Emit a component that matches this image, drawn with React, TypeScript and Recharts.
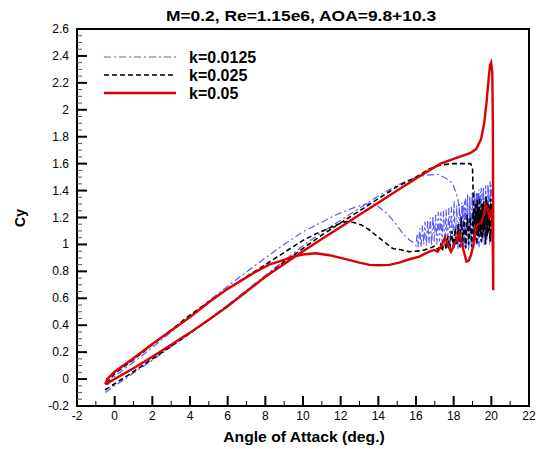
import React from 'react';
import { LineChart, Line, XAxis, YAxis, ReferenceArea, Legend } from 'recharts';

// axis ticks
const X_MAJOR = [-2, 0, 2, 4, 6, 8, 10, 12, 14, 16, 18, 20, 22];
const X_MINOR = [-1, 1, 3, 5, 7, 9, 11, 13, 15, 17, 19, 21];
const Y_MAJOR = [-0.2, 0, 0.2, 0.4, 0.6, 0.8, 1, 1.2, 1.4, 1.6, 1.8, 2, 2.2, 2.4, 2.6];
const Y_MINOR = Y_MAJOR.slice(0, -1).flatMap((v) => [v + 0.05, v + 0.1, v + 0.15]);

// [alpha, Cy] pairs (one pitching cycle each)
const K0125: [number, number][] = [
  [-0.5, -0.1], [0, -0.05], [1, 0.045], [2, 0.14], [3, 0.24], [4, 0.34], [5, 0.445], [6, 0.55],
  [7, 0.66], [8, 0.77], [9, 0.88], [10, 0.99], [11, 1.09], [12, 1.18], [13, 1.27], [14, 1.36],
  [15, 1.44], [16, 1.5], [16.6, 1.515], [17.2, 1.52], [17.6, 1.49], [17.94, 1.454], [18.2, 1.355],
  [18.35, 1.22], [18.45, 1.1],
  [18.5, 1.3], [18.56, 0.98], [18.62, 1.34], [18.68, 1.0], [18.74, 1.37], [18.8, 0.97], [18.86, 1.36],
  [18.92, 1.02], [18.98, 1.38], [19.04, 0.99], [19.1, 1.4], [19.16, 1.03], [19.22, 1.39], [19.28, 1.0],
  [19.34, 1.41], [19.4, 1.05], [19.46, 1.42], [19.52, 1.02], [19.58, 1.43], [19.64, 1.06], [19.7, 1.44],
  [19.76, 1.04], [19.82, 1.45], [19.88, 1.08], [19.94, 1.47], [20.0, 1.1], [20.06, 1.52], [20.1, 1.25],
  [20.05, 1.02], [19.98, 1.44], [19.91, 1.0], [19.84, 1.42], [19.77, 1.03], [19.7, 1.4], [19.63, 0.99],
  [19.56, 1.41], [19.49, 1.01], [19.42, 1.39], [19.35, 0.98], [19.28, 1.38], [19.21, 1.0], [19.14, 1.37],
  [19.07, 0.97], [19.0, 1.36], [18.93, 0.99], [18.86, 1.34], [18.79, 0.96], [18.72, 1.33], [18.65, 0.98],
  [18.58, 1.32], [18.51, 0.95], [18.44, 1.31], [18.37, 0.97], [18.3, 1.3], [18.23, 0.96], [18.16, 1.29],
  [18.09, 0.99], [18.02, 1.32], [17.95, 0.97], [17.88, 1.28], [17.81, 1.0], [17.74, 1.27], [17.67, 0.98],
  [17.6, 1.26], [17.53, 1.0], [17.46, 1.25], [17.39, 1.01], [17.32, 1.24], [17.25, 1.02], [17.18, 1.24],
  [17.11, 1.0], [17.04, 1.22], [16.97, 1.02], [16.9, 1.21], [16.83, 0.99], [16.76, 1.2], [16.69, 1.01],
  [16.62, 1.18], [16.55, 0.99], [16.48, 1.17], [16.41, 1.0], [16.34, 1.14], [16.27, 0.98], [16.2, 1.12],
  [16.13, 0.98], [16.06, 1.08], [16.0, 0.99],
  [15.8, 1.02], [15.65, 1.033], [15.45, 1.06], [15.29, 1.083], [15.0, 1.14], [14.76, 1.18], [14.5, 1.225],
  [14.23, 1.256], [13.95, 1.285], [13.7, 1.305], [13.3, 1.3], [12.64, 1.27], [11.76, 1.22], [11, 1.165],
  [10, 1.095], [9, 1.0], [8, 0.9], [7, 0.795], [6, 0.69], [5, 0.58], [4, 0.465], [3, 0.35], [2, 0.235],
  [1, 0.125], [0, 0.02], [-0.3, -0.03], [-0.5, -0.07],
];

const K025: [number, number][] = [
  [-0.5, -0.08], [0, -0.035], [1, 0.055], [2, 0.15], [3, 0.245], [4, 0.34], [5, 0.44], [6, 0.545],
  [7, 0.65], [8, 0.76], [9, 0.87], [10, 0.97], [11, 1.07], [12, 1.16], [13, 1.25], [14, 1.34],
  [15, 1.43], [16, 1.5], [16.7, 1.56], [17.3, 1.59], [18, 1.6], [18.9, 1.6], [19.0, 1.57],
  [19.03, 1.4], [19.06, 1.25], [19.1, 1.16],
  [19.15, 1.3], [19.2, 1.08], [19.25, 1.33], [19.3, 1.05], [19.36, 1.35], [19.42, 1.1], [19.48, 1.3],
  [19.54, 1.04], [19.6, 1.32], [19.66, 1.12], [19.72, 1.36], [19.78, 1.06], [19.84, 1.3], [19.9, 1.1],
  [19.96, 1.34], [20.02, 1.15], [20.08, 1.28], [20.1, 1.2],
  [20.06, 1.05], [20.0, 1.3], [19.94, 1.02], [19.88, 1.26], [19.82, 1.08], [19.76, 1.32], [19.7, 1.0],
  [19.64, 1.27], [19.58, 1.08], [19.52, 1.3], [19.46, 1.02], [19.4, 1.25], [19.34, 1.06], [19.28, 1.28],
  [19.22, 1.0], [19.16, 1.22], [19.1, 1.04], [19.03, 1.24], [18.96, 0.98], [18.88, 1.2], [18.8, 1.0],
  [18.72, 1.22], [18.64, 0.97], [18.56, 1.18], [18.48, 1.02], [18.4, 1.2], [18.32, 0.98], [18.24, 1.15],
  [18.16, 1.0], [18.08, 1.12], [18.0, 0.97], [17.9, 1.1], [17.8, 0.97], [17.7, 1.06], [17.6, 0.96],
  [17.5, 1.04], [17.4, 0.95], [17.3, 1.0], [17.15, 0.96], [17.0, 0.99], [16.88, 0.98],
  [16.35, 0.954], [15.65, 0.946], [15.2, 0.96], [14.76, 0.97], [14.4, 1.01], [14.06, 1.046],
  [13.53, 1.107], [13.1, 1.145], [12.7, 1.163], [12.29, 1.17], [11.76, 1.145], [11.2, 1.11],
  [10.7, 1.08], [10, 1.03], [9, 0.94], [8, 0.85], [7, 0.76], [6, 0.67], [5, 0.575], [4, 0.475],
  [3, 0.365], [2, 0.255], [1, 0.145], [0, 0.04], [-0.3, -0.01], [-0.5, -0.05],
];

const K05: [number, number][] = [
  [-0.5, -0.04], [0, 0.0], [1, 0.08], [2, 0.165], [3, 0.255], [4, 0.345], [5, 0.44], [6, 0.54],
  [7, 0.65], [8, 0.76], [9, 0.855], [10, 0.95], [11, 1.04], [12, 1.13], [13, 1.22], [14, 1.31],
  [15, 1.4], [16, 1.49], [16.7, 1.55], [17.3, 1.6], [18.3, 1.65], [18.9, 1.68], [19.2, 1.71],
  [19.45, 1.78], [19.62, 1.9], [19.75, 2.06], [19.85, 2.22], [19.93, 2.33], [19.99, 2.35],
  [20.05, 2.28], [20.08, 1.9], [20.1, 1.2], [20.1, 0.66], [20.08, 0.95], [20.04, 1.2], [20.0, 1.24],
  [19.89, 1.21], [19.8, 1.27], [19.71, 1.293], [19.6, 1.22], [19.45, 1.157], [19.3, 1.15],
  [19.18, 1.13], [19.05, 1.0], [18.92, 0.92], [18.8, 0.88], [18.68, 0.872], [18.5, 0.97],
  [18.3, 1.083], [18.1, 1.02], [17.86, 0.946], [17.7, 0.99], [17.55, 1.053], [17.35, 0.99],
  [17.15, 0.946], [16.97, 0.959], [16.71, 0.946], [16.45, 0.93], [16.18, 0.91], [15.65, 0.89],
  [15.1, 0.865], [14.59, 0.848], [14.0, 0.845], [13.53, 0.848], [13.0, 0.865], [12.11, 0.897],
  [11.4, 0.92], [10.7, 0.934], [10.0, 0.925], [9.46, 0.91], [9, 0.885], [8.2, 0.85], [7.4, 0.79],
  [6, 0.67], [5, 0.57], [4, 0.46], [3, 0.36], [2, 0.26], [1, 0.155], [0, 0.055], [-0.4, 0.0],
  [-0.5, -0.04],
];

const toRows = (pts: [number, number][]) => pts.map(([x, y]) => ({ x, y }));

const SERIES = [
  { name: 'k=0.0125', rows: toRows(K0125), color: '#5a5aff', width: 1.2, dash: '7 3 2 3' },
  { name: 'k=0.025', rows: toRows(K025), color: '#000000', width: 1.6, dash: '5 3' },
  { name: 'k=0.05', rows: toRows(K05), color: '#dd0000', width: 2.4, dash: undefined },
];

const FONT = 'Arial, "Liberation Sans", Helvetica, sans-serif';

const isMajor = (list: number[], v: number) => list.some((m) => Math.abs(m - v) < 1e-6);

function XTick(props: any) {
  const { x, y, payload } = props;
  const major = isMajor(X_MAJOR, payload.value);
  return (
    <g>
      <line x1={x} x2={x} y1={y} y2={y - (major ? 10 : 5)} stroke="#000" strokeWidth={major ? 2 : 1} />
      {major && (
        <text x={x} y={y + 14} textAnchor="middle" fontSize={12} fontFamily={FONT} fill="#000">
          {payload.value}
        </text>
      )}
    </g>
  );
}

function YTick(props: any) {
  const { x, y, payload } = props;
  const major = isMajor(Y_MAJOR, payload.value);
  return (
    <g>
      <line x1={x} x2={x + (major ? 10 : 5)} y1={y} y2={y} stroke={major ? '#000' : '#555'} strokeWidth={major ? 2 : 1} />
      {major && (
        <text x={x - 8} y={y + 4} textAnchor="end" fontSize={12} fontFamily={FONT} fill="#000">
          {String(Math.round(payload.value * 10) / 10)}
        </text>
      )}
    </g>
  );
}

function LegendBox() {
  return (
    <svg width={200} height={60}>
      {SERIES.map((s, i) => {
        const y = 10 + i * 18;
        return (
          <g key={s.name}>
            <line x1={5} x2={77} y1={y} y2={y} stroke={s.color} strokeWidth={s.width} strokeDasharray={s.dash} />
            <text x={90} y={y + 6} fontSize={16} fontWeight="bold" fontFamily={FONT} fill="#000">
              {s.name}
            </text>
          </g>
        );
      })}
    </svg>
  );
}

export default function App() {
  return (
    <div style={{ position: 'absolute', left: 0, top: 0, width: 538, height: 449, background: '#fff' }}>
      <LineChart width={538} height={449} margin={{ top: 29, right: 9, bottom: 0, left: 0 }}>
        <XAxis
          type="number"
          dataKey="x"
          domain={[-2, 22]}
          ticks={[...X_MAJOR, ...X_MINOR]}
          interval={0}
          allowDataOverflow
          height={43}
          tickSize={0}
          tickMargin={0}
          tick={(p: any) => <XTick {...p} />}
          axisLine={{ stroke: '#000', strokeWidth: 2 }}
        />
        <YAxis
          type="number"
          domain={[-0.2, 2.6]}
          ticks={[...Y_MAJOR, ...Y_MINOR]}
          interval={0}
          allowDataOverflow
          width={77}
          tickSize={0}
          tickMargin={0}
          tick={(p: any) => <YTick {...p} />}
          axisLine={{ stroke: '#000', strokeWidth: 2 }}
        />
        <ReferenceArea x1={-2} x2={22} y1={-0.2} y2={2.6} fill="none" stroke="#000" strokeWidth={2} />
        {SERIES.map((s) => (
          <Line
            key={s.name}
            name={s.name}
            data={s.rows}
            dataKey="y"
            type="linear"
            stroke={s.color}
            strokeWidth={s.width}
            strokeDasharray={s.dash}
            dot={false}
            activeDot={false}
            isAnimationActive={false}
          />
        ))}
        <Legend
          layout="vertical"
          align="center"
          verticalAlign="middle"
          wrapperStyle={{ left: 99, top: 47, width: 200, height: 60 }}
          content={() => <LegendBox />}
        />
      </LineChart>
      <div
        style={{
          position: 'absolute', left: 301, top: 8, fontFamily: FONT, fontSize: 15, fontWeight: 'bold',
          lineHeight: '15px', whiteSpace: 'nowrap', transform: 'translateX(-50%) scaleX(1.16)',
        }}
      >
        M=0.2, Re=1.15e6, AOA=9.8+10.3
      </div>
      <div
        style={{
          position: 'absolute', left: 304, top: 430, fontFamily: FONT, fontSize: 14, fontWeight: 'bold',
          lineHeight: '14px', whiteSpace: 'nowrap', transform: 'translateX(-50%) scaleX(1.12)',
        }}
      >
        Angle of Attack (deg.)
      </div>
      <div
        style={{
          position: 'absolute', left: 20, top: 218, fontFamily: FONT, fontSize: 14, fontWeight: 'bold',
          lineHeight: '14px', whiteSpace: 'nowrap', transform: 'translate(-50%, -50%) rotate(-90deg)',
        }}
      >
        Cy
      </div>
    </div>
  );
}
